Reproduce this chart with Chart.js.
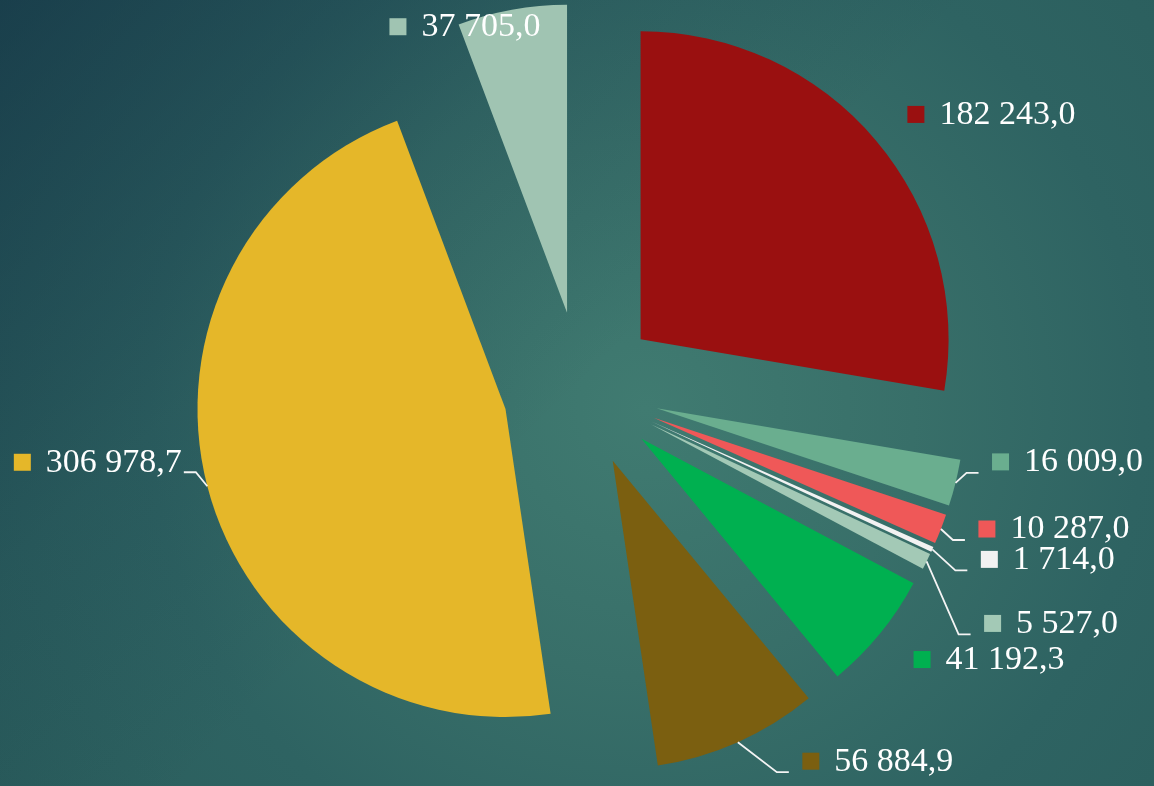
<!DOCTYPE html>
<html>
<head>
<meta charset="utf-8">
<script src="https://cdn.jsdelivr.net/npm/chart.js@4/dist/chart.umd.min.js"></script>
<style>
  html, body { margin: 0; padding: 0; }
  body {
    width: 1154px; height: 786px; overflow: hidden;
    background:
      linear-gradient(135deg, rgba(12, 38, 62, 0.55) 0%, rgba(12, 38, 62, 0.15) 30%, rgba(12, 38, 62, 0) 50%),
      radial-gradient(circle at 56% 52%, #407b71 0%, #386f69 35%, #2e6362 65%, #2a5d5c 100%);
  }
  canvas { display: block; }
</style>
</head>
<body>
<canvas id="graficoPastel" width="1154" height="786"></canvas>
<script>
// valores, en sentido horario desde las 12
const valores = [182243.0, 16009.0, 10287.0, 1714.0, 5527.0, 41192.3, 56884.9, 306978.7, 37705.0];
const etiquetas = ['182 243,0', '16 009,0', '10 287,0', '1 714,0', '5 527,0', '41 192,3', '56 884,9', '306 978,7', '37 705,0'];
const colores = ['#9a1010', '#6aae8f', '#ef5858', '#f2f2f2', '#a3c9b6', '#00b050', '#7b5f10', '#e5b729', '#a0c4b2'];

// desplazamiento de cada etiqueta respecto al borde exterior del sector
const desplazEtiqueta = [[40, -26], [45, -21], [46, 0], [57, 10], [66, 62], [42, 26], [73, 19], [-185, -24], [-114, 17]];
const lineaGuia = [null, 'der', 'der', 'der', 'der', null, 'der', 'izq', null];

const separacion = 78; // explosion de los sectores
const fuente = '34px "Liberation Serif", "Times New Roman", serif';

const pluginExplosion = {
  id: 'explosion',
  beforeDatasetDraw(chart, args) {
    const ctx = chart.ctx;
    args.meta.data.forEach(function (arco) {
      const medio = (arco.startAngle + arco.endAngle) / 2;
      ctx.save();
      ctx.translate(Math.cos(medio) * separacion, Math.sin(medio) * separacion);
      arco.draw(ctx);
      ctx.restore();
    });
    return false;
  }
};

const pluginEtiquetas = {
  id: 'etiquetas',
  afterDatasetsDraw(chart) {
    const ctx = chart.ctx;
    const meta = chart.getDatasetMeta(0);
    ctx.save();
    ctx.font = fuente;
    ctx.textBaseline = 'middle';
    meta.data.forEach(function (arco, i) {
      const medio = (arco.startAngle + arco.endAngle) / 2;
      const r = arco.outerRadius + separacion;
      const ax = arco.x + Math.cos(medio) * r;
      const ay = arco.y + Math.sin(medio) * r;
      const cx = ax + desplazEtiqueta[i][0];
      const cy = ay + desplazEtiqueta[i][1];
      const texto = etiquetas[i];
      const tx = cx + 23.5;
      const ancho = ctx.measureText(texto).width;

      if (lineaGuia[i]) {
        ctx.strokeStyle = '#f4f4f4';
        ctx.lineWidth = 1.8;
        ctx.beginPath();
        if (lineaGuia[i] === 'der') {
          const fin = cx - 22;
          const ly = cy + 11;
          ctx.moveTo(ax, ay);
          ctx.lineTo(fin - 12, ly);
          ctx.lineTo(fin, ly);
        } else {
          const fin = tx + ancho + 2;
          const ly = cy + 10;
          ctx.moveTo(ax, ay);
          ctx.lineTo(fin + 12, ly);
          ctx.lineTo(fin, ly);
        }
        ctx.stroke();
      }

      ctx.fillStyle = colores[i];
      ctx.fillRect(cx - 8.5, cy - 8.5, 17, 17);
      ctx.fillStyle = '#ffffff';
      ctx.fillText(texto, tx, cy + 0.5);
    });
    ctx.restore();
  }
};

const ctx = document.getElementById('graficoPastel');
new Chart(ctx, {
  type: 'pie',
  data: {
    labels: etiquetas,
    datasets: [{
      data: valores,
      backgroundColor: colores,
      borderWidth: 0
    }]
  },
  options: {
    responsive: false,
    animation: false,
    radius: 308,
    layout: { padding: { left: 8, right: 0, top: 0, bottom: 7 } },
    plugins: {
      legend: { display: false },
      tooltip: { enabled: false }
    }
  },
  plugins: [pluginExplosion, pluginEtiquetas]
});
</script>
</body>
</html>
